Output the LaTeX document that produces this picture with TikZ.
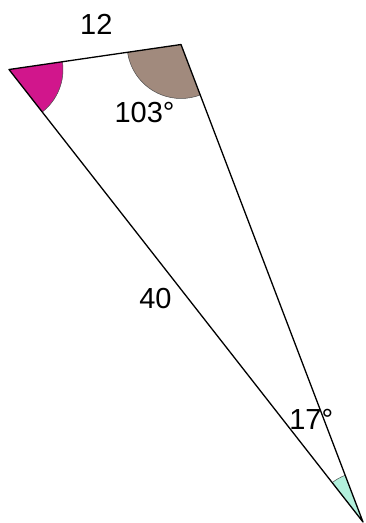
\documentclass[tikz,border=0pt]{standalone}
\usepackage{fontspec}
\setmainfont{Liberation Sans}
\usetikzlibrary{angles}
\definecolor{angA}{HTML}{D1168C}
\definecolor{angB}{HTML}{A18A7D}
\definecolor{angC}{HTML}{B2F0DC}
\tikzset{
    side/.style={line width=1.3pt, line join=round},
    wedge/.style={draw=black!70, line width=0.5pt}
}
\begin{document}
\begin{tikzpicture}[x=1pt, y=1pt, font=\fontsize{29}{34}\selectfont]
        \useasboundingbox (0,0) rectangle (366,-523);
        \coordinate (A) at (9,-69.5);
        \coordinate (B) at (181,-44.5);
        \coordinate (C) at (363,-522);
        \path pic [wedge, fill=angA, angle radius=54pt] {angle = C--A--B};
        \path pic [wedge, fill=angB, angle radius=54pt] {angle = A--B--C};
        \path pic [wedge, fill=angC, angle radius=50pt] {angle = B--C--A};
        \draw[side] (A) -- (B) -- (C) -- cycle;
        \path (96.3,-24.5) node (ab) {12};
        \path (155.5,-298.5) node (ac) {40};
        \path (144.5,-112.7) node (angleB) {103°};
        \path (311.3,-419.5) node (angleC) {17°};
    \end{tikzpicture}
\end{document}
